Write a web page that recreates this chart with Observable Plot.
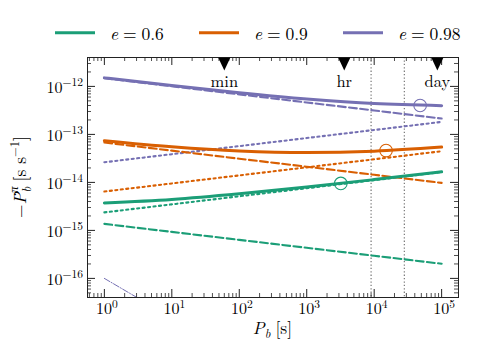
<!DOCTYPE html>
<html><head><meta charset="utf-8">
<script src="https://cdn.jsdelivr.net/npm/d3@7"></script>
<script src="https://cdn.jsdelivr.net/npm/@observablehq/plot@0.6"></script>
<style>
body{margin:0;background:#fff;}
svg{display:block;}
svg text{font-family:"Latin Modern Roman","Liberation Serif",serif;}
</style></head><body>
<div id="legend"></div>
<div id="chart"></div>
<script>
// ---- data ----
const periods = [1, 10, 100, 1000, 10000, 100000];
const series = ["e = 0.6", "e = 0.9", "e = 0.98"];
const seriesValue = ["0.6", "0.9", "0.98"];
const colors = ["#1b9e77", "#d95f02", "#7570b3"];
const totalE06  = [3.74e-15, 4.42e-15, 5.78e-15, 8.00e-15, 1.144e-14, 1.661e-14];
const totalE09  = [7.41e-14, 5.54e-14, 4.52e-14, 4.18e-14, 4.47e-14, 5.44e-14];
const totalE098 = [1.505e-12, 1.043e-12, 7.39e-13, 5.47e-13, 4.38e-13, 3.96e-13];
const dashE06   = [1.365e-15, 9.31e-16, 6.35e-16, 4.34e-16, 2.96e-16, 2.02e-16];
const dashE09   = [6.76e-14, 4.59e-14, 3.12e-14, 2.12e-14, 1.44e-14, 9.77e-15];
const dashE098  = [1.479e-12, 1.005e-12, 6.82e-13, 4.63e-13, 3.15e-13, 2.14e-13];
const dotE06    = [2.37e-15, 3.49e-15, 5.14e-15, 7.57e-15, 1.114e-14, 1.641e-14];
const dotE09    = [6.46e-15, 9.51e-15, 1.40e-14, 2.06e-14, 3.03e-14, 4.47e-14];
const dotE098   = [2.63e-14, 3.87e-14, 5.70e-14, 8.40e-14, 1.236e-13, 1.82e-13];
const dashDotPeriods = [1, 10];
const dashDotE098 = [1.0e-16, 1.5e-17];
const circlePeriods = [3200, 15000, 48000];
const circleValues = [9.5e-15, 4.6e-14, 4.0e-13];
const refPeriods = [9000, 28000];
const timeMarks = [60, 3600, 86400];
const timeLabels = ["min", "hr", "day"];
const xTicks = [1, 10, 100, 1000, 10000, 100000];
const xTickLabels = ["10^0", "10^1", "10^2", "10^3", "10^4", "10^5"];
const yTicks = [1e-16, 1e-15, 1e-14, 1e-13, 1e-12];
const yTickLabels = ["10^\u221216", "10^\u221215", "10^\u221214", "10^\u221213", "10^\u221212"];

// ---- tables ----
function rows(values, i) { return periods.map((p, j) => ({period: p, value: values[j], series: series[i]})); }
const totals = [totalE06, totalE09, totalE098].flatMap((v, i) => rows(v, i));
const dashes = [dashE06, dashE09, dashE098].flatMap((v, i) => rows(v, i));
const dots = [dotE06, dotE09, dotE098].flatMap((v, i) => rows(v, i));
const dashDot = dashDotPeriods.map((p, j) => ({period: p, value: dashDotE098[j], series: series[2]}));
const circles = circlePeriods.map((p, j) => ({period: p, value: circleValues[j], series: series[j]}));

const xMinor = [], yMinor = [];
for (let e = -1; e <= 5; e++) for (let m = 2; m <= 9; m++) { const v = m * 10 ** e; if (v > 10 ** -0.25 && v < 10 ** 5.25) xMinor.push(v); }
for (let e = -17; e <= -12; e++) for (let m = 2; m <= 9; m++) { const v = m * 10 ** e; if (v > 4e-17 && v < 4e-12) yMinor.push(v); }

// ---- layout ----
const W = 479, legendH = 45, H = 315;
const mL = 87, mR = 21, mT = 12, mB = 63;
const fw = W - mL - mR, fh = H - mT - mB;
const tickCol = "#222";
const FONT = "Latin Modern Roman, Liberation Serif, serif";

const downTri = {draw(ctx, size) { const r = Math.sqrt(size / Math.PI); ctx.moveTo(-r, -r * 1.05); ctx.lineTo(r, -r * 1.05); ctx.lineTo(0, r * 1.1); ctx.closePath(); }};

const plot = Plot.plot({
  width: W, height: H,
  marginLeft: mL, marginRight: mR, marginTop: mT, marginBottom: mB,
  style: {fontFamily: FONT, fontSize: "16px", background: "white", overflow: "visible"},
  x: {type: "log", domain: [10 ** -0.25, 10 ** 5.25], axis: null},
  y: {type: "log", domain: [4e-17, 4e-12], axis: null},
  color: {domain: series, range: colors},
  marks: [
    Plot.ruleX(refPeriods, {x: d => d, stroke: "#777", strokeWidth: 1.2, strokeDasharray: "1.3,2.1"}),
    Plot.line(dots, {x: "period", y: "value", stroke: "series", strokeWidth: 2.1, strokeDasharray: "2.1,3.4"}),
    Plot.line(dashes, {x: "period", y: "value", stroke: "series", strokeWidth: 2.1, strokeDasharray: "7.8,3.4"}),
    Plot.line(totals, {x: "period", y: "value", stroke: "series", strokeWidth: 3, curve: "monotone-x"}),
    Plot.line(dashDot, {x: "period", y: "value", stroke: "series", strokeWidth: 1, strokeDasharray: "6.4,1.6,1,1.6", clip: true}),
    Plot.dot(circles, {x: "period", y: "value", stroke: "series", r: 6.3, strokeWidth: 1.1, fill: "none"}),
    // inward ticks
    Plot.tickX(xTicks, {x: d => d, insetTop: fh - 8, stroke: tickCol}),
    Plot.tickX(xTicks, {x: d => d, insetBottom: fh - 8, stroke: tickCol}),
    Plot.tickX(xMinor, {x: d => d, insetTop: fh - 4, stroke: tickCol, strokeWidth: 0.8}),
    Plot.tickX(xMinor, {x: d => d, insetBottom: fh - 4, stroke: tickCol, strokeWidth: 0.8}),
    Plot.tickY(yTicks, {y: d => d, insetRight: fw - 8, stroke: tickCol}),
    Plot.tickY(yTicks, {y: d => d, insetLeft: fw - 8, stroke: tickCol}),
    Plot.tickY(yMinor, {y: d => d, insetRight: fw - 4, stroke: tickCol, strokeWidth: 0.8}),
    Plot.tickY(yMinor, {y: d => d, insetLeft: fw - 4, stroke: tickCol, strokeWidth: 0.8}),
    Plot.frame({stroke: tickCol, strokeWidth: 1}),
    Plot.dot(timeMarks, {x: d => d, frameAnchor: "top", symbol: downTri, r: 6, fill: "black", stroke: "none", dy: 6.5}),
    Plot.text(timeMarks, {x: d => d, frameAnchor: "top", text: (d, i) => timeLabels[i], dy: 24.5, lineAnchor: "middle", fill: "black", fontSize: 16.5})
  ]
});
document.getElementById("chart").appendChild(plot);

// ---- tick labels & axis labels (superscripts) ----
const svg = d3.select(plot);
const sx = plot.scale("x"), sy = plot.scale("y");
const g = svg.append("g").attr("fill", "black");
function supLabel(label, x, y, anchor, size, supSize, rise) {
  const [base, sup] = label.split("^");
  const t = g.append("text").attr("x", x).attr("y", y).attr("text-anchor", anchor).attr("font-size", size);
  t.append("tspan").text(base);
  t.append("tspan").attr("font-size", supSize).attr("dy", -rise).text(sup);
}
xTicks.forEach((v, i) => supLabel(xTickLabels[i], sx.apply(v) + 3, H - mB + 17, "middle", 16, 11.5, 6.5));
yTicks.forEach((v, i) => supLabel(yTickLabels[i], mL - 4, sy.apply(v) + 7, "end", 16, 11.5, 6.5));

// x label: P_b [s]
const xl = g.append("text").attr("x", mL + fw / 2).attr("y", H - mB + 37).attr("text-anchor", "middle").attr("font-size", 17.5);
xl.append("tspan").attr("font-style", "italic").text("P");
xl.append("tspan").attr("font-style", "italic").attr("font-size", 12.5).attr("dy", 4).text("b");
xl.append("tspan").attr("dy", -4).attr("dx", 5).text("[s]");

// y label: −Ṗ_b^π [s s^−1]
const yl = g.append("text").attr("transform", `translate(26,${mT + fh / 2}) rotate(-90)`).attr("text-anchor", "middle").attr("font-size", 17.5);
yl.append("tspan").text("\u2212");
yl.append("tspan").attr("font-style", "italic").text("\u1E56");
yl.append("tspan").attr("font-style", "italic").attr("font-size", 12.5).attr("dy", 5).text("b");
yl.append("tspan").attr("font-style", "italic").attr("font-size", 12.5).attr("dx", -6).attr("dy", -13).text("\u03C0");
yl.append("tspan").attr("dy", 8).attr("dx", 5).text("[s s");
yl.append("tspan").attr("font-size", 12.5).attr("dy", -7).text("\u22121");
yl.append("tspan").attr("dy", 7).text("]");

// ---- legend ----
const leg = d3.select("#legend").append("svg").attr("width", W).attr("height", legendH);
const legX = [55, 199, 343];
series.forEach((s, i) => {
  const x0 = legX[i];
  leg.append("line").attr("x1", x0).attr("x2", x0 + 40).attr("y1", 32.7).attr("y2", 32.7).attr("stroke", colors[i]).attr("stroke-width", 3);
  const t = leg.append("text").attr("x", x0 + 55).attr("y", 40).attr("font-size", 17.5).attr("fill", "black");
  t.append("tspan").attr("font-style", "italic").text("e");
  t.append("tspan").attr("dx", 4.9).text("=");
  t.append("tspan").attr("dx", 4.9).text(seriesValue[i]);
});
</script>
</body></html>
